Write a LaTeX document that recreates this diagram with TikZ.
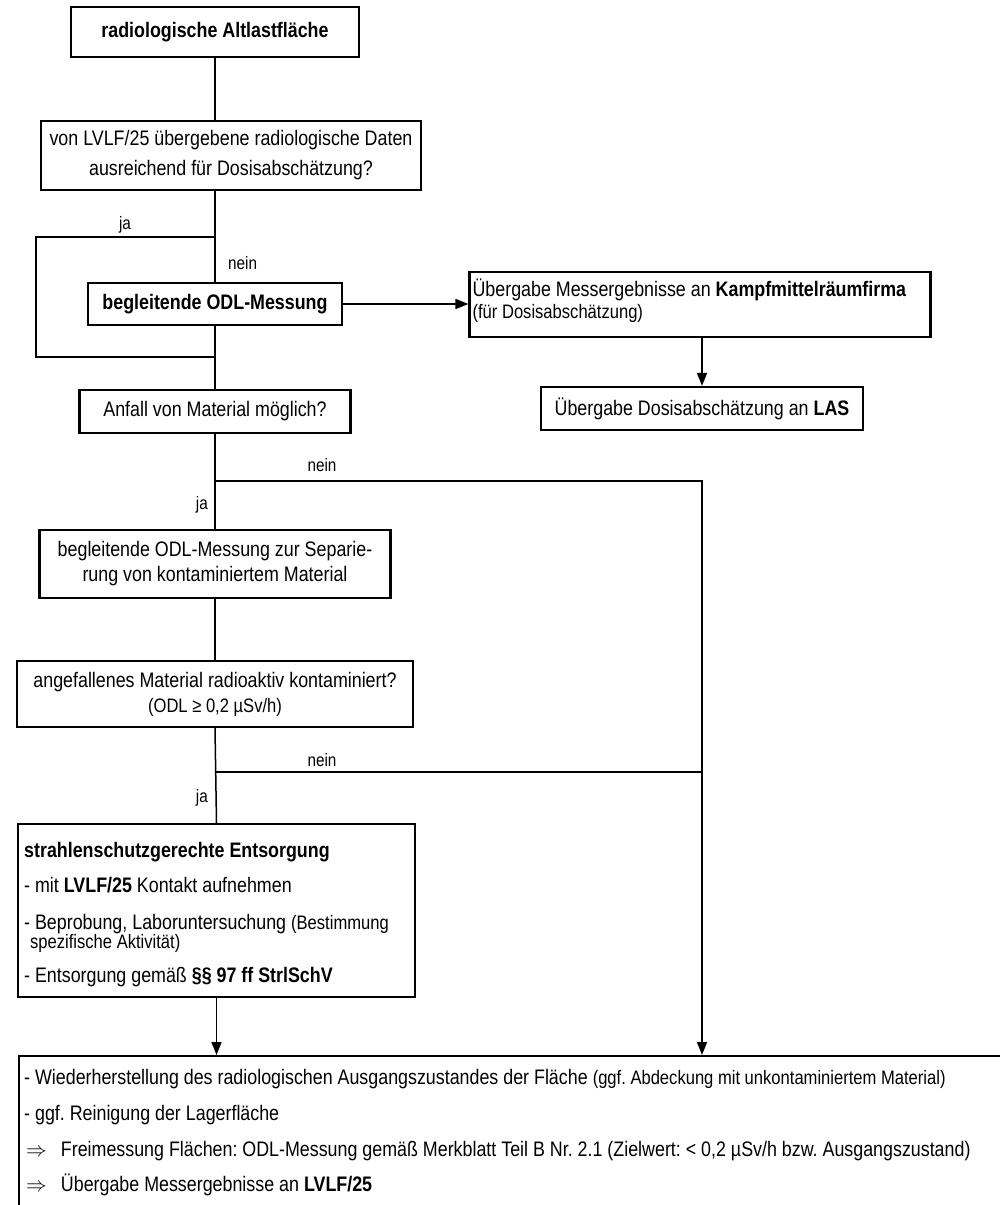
\documentclass[tikz,border=0pt]{standalone}
\usepackage{fontspec}
\setmainfont{Liberation Sans}[FakeStretch=0.85]
\usetikzlibrary{arrows.meta}
\newcommand\smtxt{\fontsize{19.5}{22}\selectfont}
\frenchspacing
\begin{document}
\begin{tikzpicture}[x=1pt,y=-1pt,
  every node/.append style={font=\fontsize{21}{25}\selectfont},
  box/.style={draw, line width=2.2pt, inner sep=0pt, align=center},
  ln/.style={line width=1.5pt},
  arr/.style={ln, -{Triangle[length=13pt,width=10pt]}},
  lbl/.style={font=\fontsize{18}{20}\selectfont, inner sep=0pt},
  txt/.style={anchor=base west, inner sep=0pt}
]
\useasboundingbox (0,0) rectangle (1000,1205);
\clip (0,0) rectangle (1000,1205);
\fill[white] (0,0) rectangle (1000,1205);

% boxes
\node[box, minimum width=288, minimum height=50] (n1) at (215,32) {\bfseries radiologische Altlastfläche};
\node[box, minimum width=380, minimum height=69] (n2) at (231,155.5) {von LVLF/25 übergebene radiologische Daten\\[5pt]ausreichend für Dosisabschätzung?};
\node[box, minimum width=254, minimum height=42] (odl) at (215,304) {\bfseries begleitende ODL-Messung};
\node[box, minimum width=461, minimum height=65] (ueb) at (700,304.5) {};
\node[txt] (u1) at (ueb.west |- 0,296) [xshift=4pt] {Übergabe Messergebnisse an \textbf{Kampfmittelräumfirma}};
\node[txt] (u2) at (ueb.west |- 0,318) [xshift=4pt] {\smtxt (für Dosisabschätzung)};
\node[box, minimum width=322, minimum height=43] (las) at (702,408.5) {Übergabe Dosisabschätzung an \textbf{LAS}};
\node[box, minimum width=271, minimum height=43] (anf) at (215,411.5) {Anfall von Material möglich?};
\node[box, minimum width=351, minimum height=68] (odl2) at (215,564) {begleitende ODL-Messung zur Separie-\\rung von kontaminiertem Material};
\node[box, minimum width=396, minimum height=66] (ang) at (215,694) {angefallenes Material radioaktiv kontaminiert?\\{\smtxt (ODL ≥ 0,2 µSv/h)}};
\node[box, minimum width=397, minimum height=173] (str) at (216.5,910.5) {};
\node[box, minimum width=1000, minimum height=200, anchor=north west] (bot) at (18,1055) {};

% text inside strahlen box
\node[txt] (s1) at (24,857) {\bfseries strahlenschutzgerechte Entsorgung};
\node[txt] (s2) at (24,892) {- mit \textbf{LVLF/25} Kontakt aufnehmen};
\node[txt] (s3) at (24,929) {- Beprobung, Laboruntersuchung {\smtxt (Bestimmung}};
\node[txt] (s4) at (30,948) {\smtxt spezifische Aktivität)};
\node[txt] (s5) at (24,982) {- Entsorgung gemäß \textbf{§§ 97 ff StrlSchV}};

% text inside bottom box
\node[txt] (b1) at (24,1084) {- Wiederherstellung des radiologischen Ausgangszustandes der Fläche {\smtxt (ggf. Abdeckung mit unkontaminiertem Material)}};
\node[txt] (b2) at (24,1120) {- ggf. Reinigung der Lagerfläche};
\node[txt] (b3) at (26,1156) {$\Rightarrow$\hspace{14pt}Freimessung Flächen: ODL-Messung gemäß Merkblatt Teil B Nr. 2.1 (Zielwert: < 0,2 µSv/h bzw. Ausgangszustand)};
\node[txt] (b4) at (26,1191) {$\Rightarrow$\hspace{14pt}Übergabe Messergebnisse an \textbf{LVLF/25}};

% junction coordinates
\coordinate (t1) at (215,237);
\coordinate (t2) at (215,357);
\coordinate (j1) at (215,481);
\coordinate (r1) at (702,481);
\coordinate (j2) at (215,772);
\coordinate (r2) at (702,772);

% connectors
\draw[ln] (n1.south) -- (n1.south |- n2.north);
\draw[ln] (n1.south |- n2.south) -- (odl.north);
\draw[ln] (t1) -- ++(-179,0) |- (t2);
\draw[ln] (odl.south) -- (anf.north);
\draw[arr] (odl.east) -- (odl.east -| ueb.west);
\draw[arr] (ueb.south -| las.north) -- (las.north);
\draw[ln] (anf.south) -- (odl2.north);
\draw[arr] (j1) -- (r1) -- (r1 |- bot.north);
\draw[ln] (j2) -- (r2);
\draw[ln] (odl2.south) -- (ang.north);
\draw[ln] (ang.south) -- (str.north);
\draw[arr] (str.south) -- (str.south |- bot.north);

% labels
\node[lbl] (ja1) at (125,225) {ja};
\node[lbl, anchor=west] (nein1) at (228,263) {nein};
\node[lbl] (nein2) at (322,465) {nein};
\node[lbl, anchor=east] (ja2) at (208,505) {ja};
\node[lbl] (nein3) at (322,760) {nein};
\node[lbl, anchor=east] (ja3) at (208,798) {ja};
\end{tikzpicture}
\end{document}
